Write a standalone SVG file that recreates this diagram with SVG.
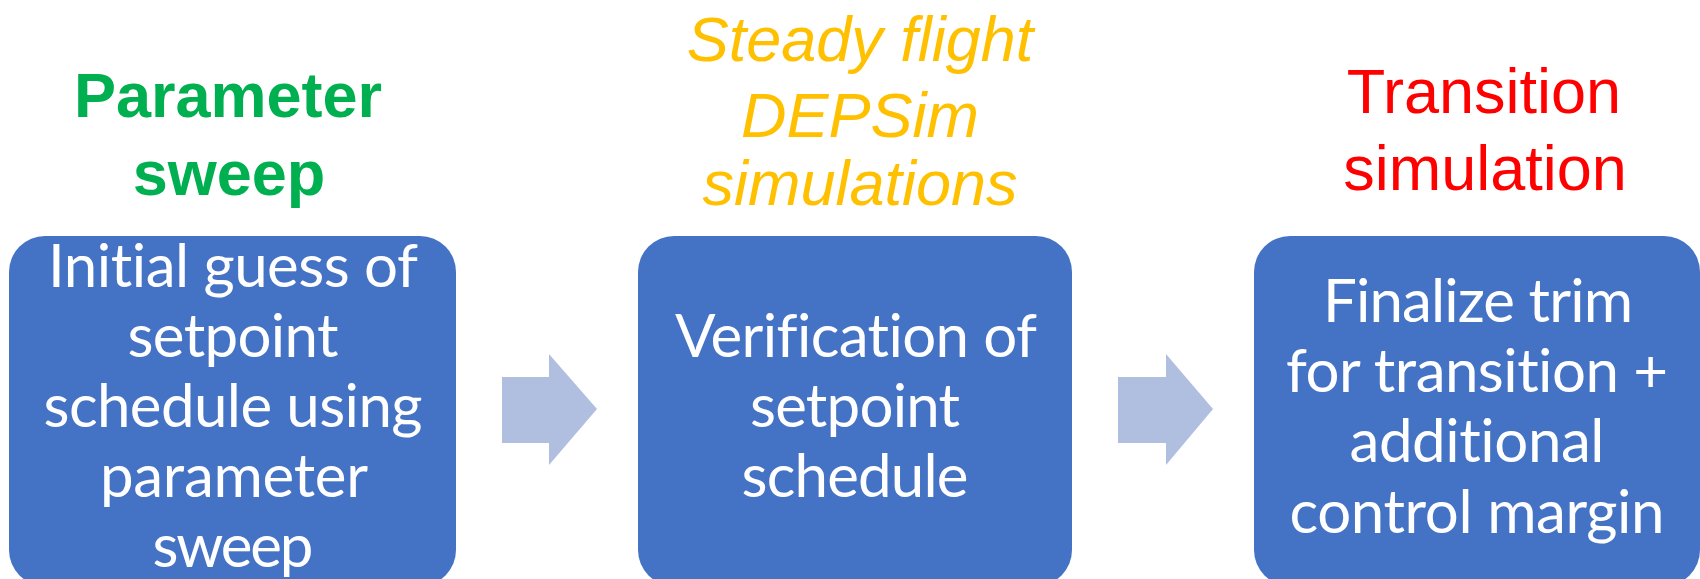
<svg xmlns="http://www.w3.org/2000/svg" width="1700" height="579" viewBox="0 0 1700 579">
  <style>
    text { font-variant-ligatures: none; font-feature-settings: "liga" 0, "clig" 0, "dlig" 0; }
    .box { fill: #4472C4; }
    .box-text { font-family: "Lato", "Open Sans", sans-serif; font-size: 60px; fill: #FFFFFF; text-anchor: middle; }
    .arrow { fill: #B0BFE0; }
    .head { font-family: "Liberation Sans", Arial, sans-serif; font-size: 63px; text-anchor: middle; }
    .green { fill: #00B050; font-weight: bold; }
    .amber { fill: #FFC000; font-style: italic; }
    .red { fill: #FF0000; }
  </style>
  <rect width="1700" height="579" fill="#FFFFFF"/>

  <!-- stage headings -->
  <g id="heading-sweep">
    <text class="head green" x="228" y="117">Parameter</text>
    <text class="head green" x="229" y="195">sweep</text>
  </g>
  <g id="heading-steady">
    <text class="head amber" x="860" y="61" font-size="64">Steady flight</text>
    <text class="head amber" x="860" y="137" font-size="64">DEPSim</text>
    <text class="head amber" x="860" y="205" font-size="64">simulations</text>
  </g>
  <g id="heading-transition">
    <text class="head red" x="1484" y="113">Transition</text>
    <text class="head red" x="1485" y="190">simulation</text>
  </g>

  <!-- process steps -->
  <g id="step-initial-guess">
    <rect class="box" x="9" y="236" width="447" height="350" rx="36"/>
    <text class="box-text" x="233" y="287" textLength="370">Initial guess of</text>
    <text class="box-text" x="233" y="357" textLength="211">setpoint</text>
    <text class="box-text" x="233" y="427" textLength="379">schedule using</text>
    <text class="box-text" x="234" y="497" textLength="268">parameter</text>
    <text class="box-text" x="233" y="567" textLength="161">sweep</text>
  </g>
  <g id="step-verification">
    <rect class="box" x="638" y="236" width="434" height="350" rx="36"/>
    <text class="box-text" x="856" y="357" textLength="362">Verification of</text>
    <text class="box-text" x="855" y="427" textLength="210">setpoint</text>
    <text class="box-text" x="855" y="497" textLength="227">schedule</text>
  </g>
  <g id="step-finalize">
    <rect class="box" x="1254" y="236" width="446" height="350" rx="36"/>
    <text class="box-text" x="1478" y="322" textLength="310">Finalize trim</text>
    <text class="box-text" x="1477" y="392" textLength="382">for transition +</text>
    <text class="box-text" x="1477" y="462" textLength="255">additional</text>
    <text class="box-text" x="1477" y="533" textLength="375">control margin</text>
  </g>

  <!-- block arrows between steps -->
  <g id="connectors">
    <polygon class="arrow" points="502,377 549,377 549,354 597,409 549,465 549,443 502,443"/>
    <polygon class="arrow" points="1118,377 1166,377 1166,354 1213,409 1166,465 1166,443 1118,443"/>
  </g>
</svg>
